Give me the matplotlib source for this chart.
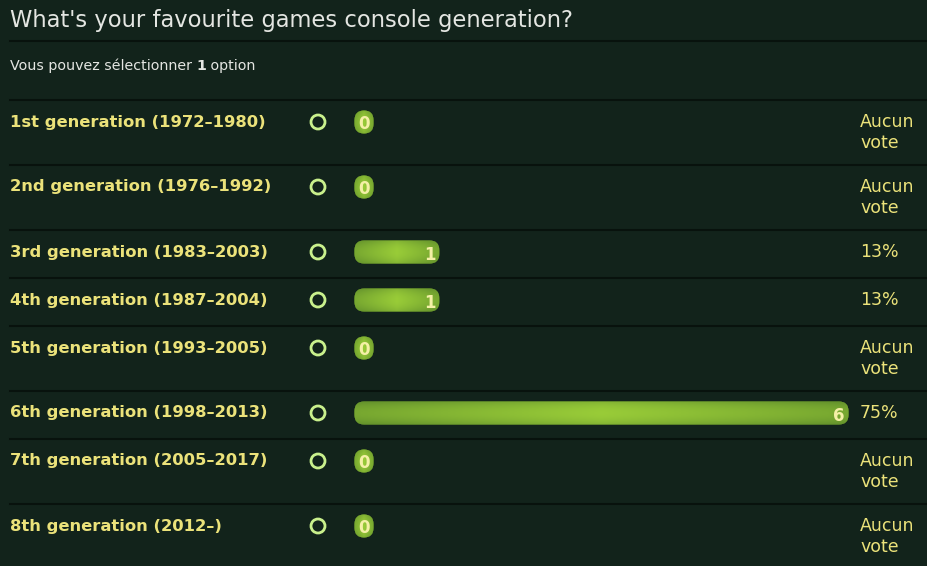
import numpy as np
import matplotlib
matplotlib.use('Agg')
import matplotlib.pyplot as plt
from matplotlib.patches import FancyBboxPatch, Circle

title = "What's your favourite games console generation?"
subtitle_pre = 'Vous pouvez sélectionner '
subtitle_num = '1'
subtitle_post = ' option'
options = ['1st generation (1972–1980)', '2nd generation (1976–1992)',
           '3rd generation (1983–2003)', '4th generation (1987–2004)',
           '5th generation (1993–2005)', '6th generation (1998–2013)',
           '7th generation (2005–2017)', '8th generation (2012–)']
votes = [0, 0, 1, 1, 0, 6, 0, 0]
no_vote = 'Aucun\nvote'

bg = '#12231b'
sep = '#08120d'
yellow = '#ebe27a'
radio = '#c9f08c'

fig = plt.figure(figsize=(9.28, 5.66), dpi=100, facecolor=bg)
ax = fig.add_axes([0, 0, 1, 1])
ax.set_facecolor(bg)
ax.set_xlim(0, 928)
ax.set_ylim(566, 0)
ax.axis('off')

ax.text(10, 20, title, fontsize=16.3, color='#e4e6e2', va='center', ha='left')
ax.plot([10, 928], [41, 41], color=sep, lw=1.5)
t = ax.text(10, 66, subtitle_pre, fontsize=10.3, color='#e4e6e2', va='center')
fig.canvas.draw()
bb = t.get_window_extent().transformed(ax.transData.inverted())
t2 = ax.text(bb.x1, 66, subtitle_num, fontsize=10.3, color='#e4e6e2', va='center', weight='bold')
fig.canvas.draw()
bb2 = t2.get_window_extent().transformed(ax.transData.inverted())
ax.text(bb2.x1, 66, subtitle_post, fontsize=10.3, color='#e4e6e2', va='center')

# row layout: rows with no votes are taller (two-line "Aucun vote")
total = sum(votes)
row_top = 100
bar_x0 = 354
px_per_pct = 6.6
grad_x = np.linspace(-1, 1, 200)
grad_y = np.linspace(-1, 1, 30)
gx, gy = np.meshgrid(grad_x, grad_y)
shade = np.clip(1 - 0.6 * np.abs(gx) - 0.4 * gy ** 2, 0, 1)
dark = np.array([0.38, 0.56, 0.17])
light = np.array([0.60, 0.80, 0.22])
img = dark + (light - dark) * shade[..., None]

for i, (opt, v) in enumerate(zip(options, votes)):
    h = 65 if v == 0 else 48
    ax.plot([10, 928], [row_top, row_top], color=sep, lw=1.5)
    yc = row_top + 22
    ax.text(10, yc, opt, fontsize=11.8, color=yellow, weight='bold', va='center')
    ax.add_patch(Circle((318, yc), 7, fill=False, ec=radio, lw=2))
    pct = int(100.0 * v / total + 0.5)
    w = max(20, pct * px_per_pct)
    patch = FancyBboxPatch((bar_x0 + 0.5, yc - 12 + 0.5), w - 1, 23,
                           boxstyle='round,pad=0,rounding_size=9.5',
                           fc='#6a9a28', ec='none')
    ax.add_patch(patch)
    im = ax.imshow(img, extent=[bar_x0, bar_x0 + w, yc + 12, yc - 12],
                   aspect='auto', zorder=2)
    im.set_clip_path(patch)
    if v == 0:
        ax.text(bar_x0 + w / 2, yc + 2, str(v), fontsize=12, color='#f4f0a6',
                weight='bold', ha='center', va='center', zorder=3)
        ax.text(860, yc + 10.5, no_vote, fontsize=12.5, color=yellow, va='center',
                linespacing=1.2)
    else:
        ax.text(bar_x0 + w - 4, yc + 3, str(v), fontsize=12, color='#f4f0a6',
                weight='bold', ha='right', va='center', zorder=3)
        ax.text(860, yc, '%d%%' % pct, fontsize=12.5, color=yellow,
                va='center')
    row_top += h

fig.savefig('out.png', dpi=100, facecolor=bg)
